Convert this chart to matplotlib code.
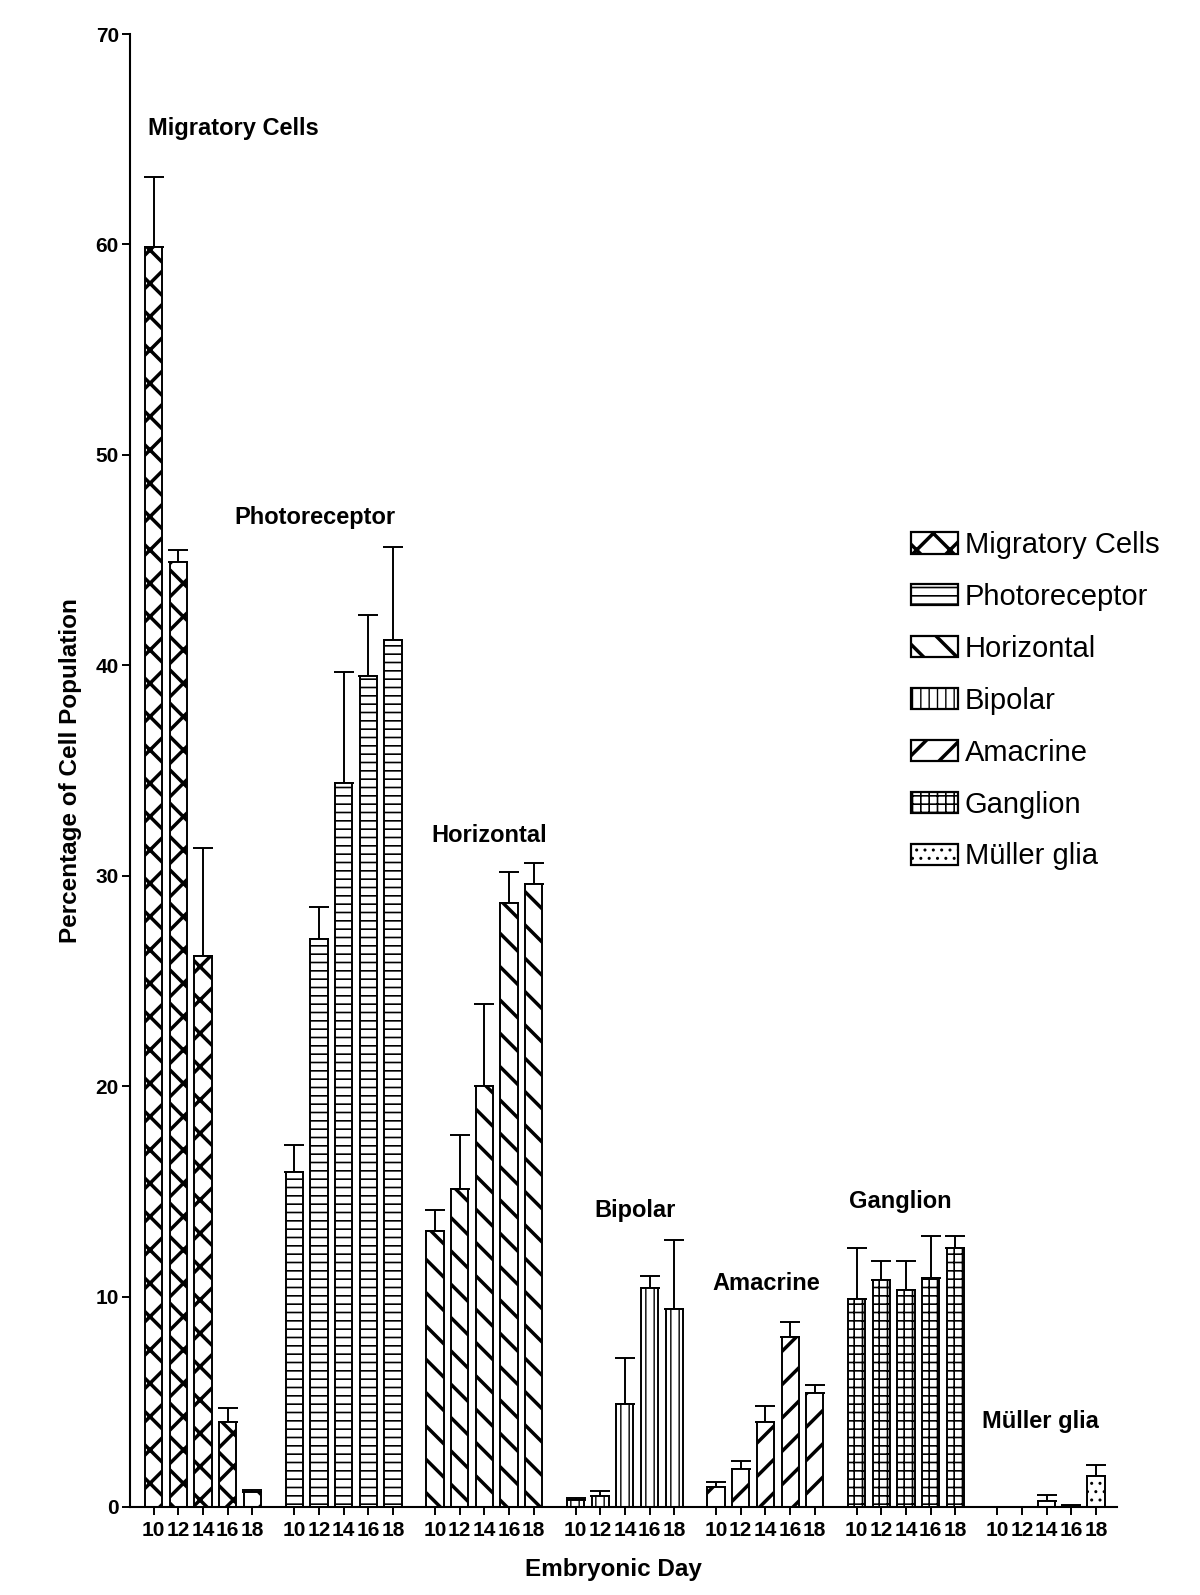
import numpy as np
import matplotlib
matplotlib.use('Agg')
from matplotlib import pyplot as plt

plt.rcParams['font.family'] = ['Liberation Sans', 'DejaVu Sans']

days = ['10', '12', '14', '16', '18']
groups = ['Migratory Cells', 'Photoreceptor', 'Horizontal', 'Bipolar',
          'Amacrine', 'Ganglion', 'Müller glia']

# mean percentage per embryonic day, and the upper error (SEM)
migratory = [59.9, 44.9, 26.2, 4.06, 0.73]
migratory_err = [3.3, 0.6, 5.1, 0.65, 0.1]
photoreceptor = [15.9, 27.0, 34.4, 39.5, 41.2]
photoreceptor_err = [1.3, 1.5, 5.3, 2.9, 4.4]
horizontal = [13.1, 15.1, 20.0, 28.7, 29.6]
horizontal_err = [1.0, 2.6, 3.9, 1.5, 1.0]
bipolar = [0.34, 0.53, 4.9, 10.4, 9.4]
bipolar_err = [0.1, 0.24, 2.2, 0.6, 3.3]
amacrine = [0.97, 1.8, 4.06, 8.1, 5.4]
amacrine_err = [0.2, 0.4, 0.75, 0.7, 0.4]
ganglion = [9.9, 10.8, 10.3, 10.9, 12.3]
ganglion_err = [2.4, 0.9, 1.4, 2.0, 0.6]
muller = [0, 0, 0.3, 0.05, 1.45]
muller_err = [0, 0, 0.28, 0.03, 0.55]

means = [migratory, photoreceptor, horizontal, bipolar, amacrine, ganglion, muller]
errs = [migratory_err, photoreceptor_err, horizontal_err, bipolar_err,
        amacrine_err, ganglion_err, muller_err]

hatches = ['x', '--', '\\', '||', '/', '++', '..']
hatch_lw = [2.5, 1.2, 2.5, 1.0, 2.5, 1.2, 1.0]
# where the group titles sit (offset from group centre, height)
label_dx = [1.25, -1.15, 0.2, 0.4, 0.05, -0.25, -0.25]
label_y = [65.5, 47.0, 31.9, 14.1, 10.6, 14.5, 4.06]

gap = 5.7
fig = plt.figure(figsize=(12, 15.95), dpi=100)
ax = fig.add_axes([130 / 1200, 88 / 1595, (1117 - 130) / 1200, (1507 - 34) / 1595])

ticks = []
handles = []
for g in range(len(groups)):
    x = g * gap + np.arange(len(days))
    ticks.extend(x)
    with plt.rc_context({'hatch.linewidth': hatch_lw[g]}):
        bars = ax.bar(x, means[g], width=0.7, color='white', edgecolor='black',
                      linewidth=1.4, hatch=hatches[g], zorder=2)
    for b in bars:
        if hasattr(b, 'set_hatch_linewidth'):
            b.set_hatch_linewidth(hatch_lw[g])
    handles.append(bars)
    m = np.array(means[g])
    e = np.array(errs[g])
    ok = e > 0
    ax.errorbar(x[ok], m[ok], yerr=[np.zeros(ok.sum()), e[ok]], fmt='none',
                ecolor='black', elinewidth=1.4, capsize=7, capthick=1.4, zorder=1)
    ax.text(g * gap + 2 + label_dx[g], label_y[g], groups[g], ha='center',
            va='center', fontsize=17, fontweight='bold')

ax.set_xlim(-0.96, 6 * gap + 4 + 0.85)
ax.set_ylim(0, 70)
ax.set_yticks(range(0, 71, 10))
ax.set_xticks(ticks)
ax.set_xticklabels(days * len(groups))
ax.tick_params(axis='both', direction='out', length=6, width=1.4,
               labelsize=15)
ax.tick_params(axis='x', pad=4)
ax.tick_params(axis='y', pad=2)
for lab in ax.get_xticklabels() + ax.get_yticklabels():
    lab.set_fontweight('bold')

ax.spines['top'].set_visible(False)
ax.spines['right'].set_visible(False)
ax.spines['left'].set_linewidth(1.5)
ax.spines['bottom'].set_linewidth(1.5)

ax.set_ylabel('Percentage of Cell Population', fontsize=17.5, fontweight='bold')
ax.set_xlabel('Embryonic Day', fontsize=17.5, fontweight='bold')
ax.yaxis.set_label_coords(-0.049, 0.5)
ax.xaxis.set_label_coords(0.49, -0.0345)

leg = fig.legend(handles, groups, loc='upper left',
                 bbox_to_anchor=(911 / 1200, 1 - 531 / 1595),
                 frameon=False, fontsize=21, handlelength=1.6, handleheight=0.75,
                 handletextpad=0.25, labelspacing=0.82, borderpad=0,
                 borderaxespad=0)
for h, lw in zip(leg.legend_handles, hatch_lw):
    if hasattr(h, 'set_hatch_linewidth'):
        h.set_hatch_linewidth(lw)
    h.set_linewidth(1.6)

fig.savefig('out.png', dpi=100)
